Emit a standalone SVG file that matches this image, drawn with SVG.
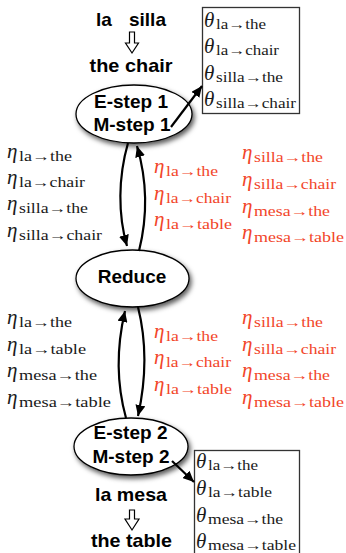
<svg xmlns="http://www.w3.org/2000/svg" width="346" height="553" viewBox="0 0 346 553">
<style>
.b{font-family:"Liberation Sans",Arial,sans-serif;font-weight:bold;font-size:19px;text-anchor:middle;fill:#000}
.g{font-family:"Liberation Serif","DejaVu Serif",serif;font-style:italic;font-size:21px}
.s{font-family:"Liberation Serif","DejaVu Serif",serif;font-size:14px}
.k{fill:#1a1a1a}
.r{fill:#f2462a}
.node{fill:#fff;stroke:#000;stroke-width:1.3}
.box{fill:#fff;stroke:#333;stroke-width:1.3}
.conn path{fill:none;stroke:#000;stroke-width:2.2}
.open{fill:#fff;stroke:#000;stroke-width:1.2}
</style>
<defs>
<filter id="sh" x="-20%" y="-20%" width="150%" height="160%">
<feDropShadow dx="2" dy="3" stdDeviation="2.5" flood-color="#000" flood-opacity="0.65"/>
</filter>
<marker id="ah" markerUnits="userSpaceOnUse" markerWidth="12" markerHeight="10" refX="11" refY="5" orient="auto">
<path d="M0,0 L11,5 L0,10 Z" fill="#000"/>
</marker>
</defs>

<g id="top-label">
<text class="b" x="131" y="26" style="text-anchor:start"><tspan x="96">la</tspan><tspan x="129">silla</tspan></text>
<path class="open" d="M129.5,32 H134.5 V43 H138.5 L132,53 L125.5,43 H129.5 Z"/>
<text class="b" x="131" y="72" textLength="83" lengthAdjust="spacingAndGlyphs">the chair</text>
</g>

<g id="estep1">
<ellipse class="node" cx="134" cy="114" rx="58" ry="29" filter="url(#sh)"/>
<text class="b" x="131" y="108">E-step 1</text>
<text class="b" x="132" y="131">M-step 1</text>
</g>

<g id="theta1">
<rect class="box" x="202.5" y="7.5" width="97" height="106"/>
<text class="g k" x="204" y="27">θ</text><text class="s k" x="216" y="29" textLength="50" lengthAdjust="spacingAndGlyphs">la→the</text>
<text class="g k" x="204" y="53">θ</text><text class="s k" x="216" y="55" textLength="63" lengthAdjust="spacingAndGlyphs">la→chair</text>
<text class="g k" x="204" y="80">θ</text><text class="s k" x="216" y="82" textLength="67" lengthAdjust="spacingAndGlyphs">silla→the</text>
<text class="g k" x="204" y="106">θ</text><text class="s k" x="216" y="108" textLength="80" lengthAdjust="spacingAndGlyphs">silla→chair</text>
</g>

<g id="eta-left-1">
<text class="g k" x="7" y="158">η</text><text class="s k" x="19" y="161" textLength="53" lengthAdjust="spacingAndGlyphs">la→the</text>
<text class="g k" x="7" y="184">η</text><text class="s k" x="19" y="187" textLength="66" lengthAdjust="spacingAndGlyphs">la→chair</text>
<text class="g k" x="7" y="210">η</text><text class="s k" x="19" y="213" textLength="69" lengthAdjust="spacingAndGlyphs">silla→the</text>
<text class="g k" x="7" y="237">η</text><text class="s k" x="19" y="240" textLength="83" lengthAdjust="spacingAndGlyphs">silla→chair</text>
</g>

<g id="eta-mid-1">
<text class="g r" x="154" y="173">η</text><text class="s r" x="166" y="176" textLength="52" lengthAdjust="spacingAndGlyphs">la→the</text>
<text class="g r" x="154" y="200">η</text><text class="s r" x="166" y="203" textLength="65" lengthAdjust="spacingAndGlyphs">la→chair</text>
<text class="g r" x="154" y="226">η</text><text class="s r" x="166" y="229" textLength="66" lengthAdjust="spacingAndGlyphs">la→table</text>
</g>

<g id="eta-right-1">
<text class="g r" x="242" y="159">η</text><text class="s r" x="254" y="162" textLength="69" lengthAdjust="spacingAndGlyphs">silla→the</text>
<text class="g r" x="242" y="186">η</text><text class="s r" x="254" y="189" textLength="82" lengthAdjust="spacingAndGlyphs">silla→chair</text>
<text class="g r" x="242" y="213">η</text><text class="s r" x="254" y="216" textLength="76" lengthAdjust="spacingAndGlyphs">mesa→the</text>
<text class="g r" x="242" y="239">η</text><text class="s r" x="254" y="242" textLength="90" lengthAdjust="spacingAndGlyphs">mesa→table</text>
</g>

<g id="reduce">
<ellipse class="node" cx="132.5" cy="278.5" rx="56.5" ry="28.5" filter="url(#sh)"/>
<text class="b" x="132" y="283">Reduce</text>
</g>

<g id="eta-left-2">
<text class="g k" x="7" y="324">η</text><text class="s k" x="19" y="327" textLength="53" lengthAdjust="spacingAndGlyphs">la→the</text>
<text class="g k" x="7" y="351">η</text><text class="s k" x="19" y="354" textLength="67" lengthAdjust="spacingAndGlyphs">la→table</text>
<text class="g k" x="7" y="377">η</text><text class="s k" x="19" y="380" textLength="78" lengthAdjust="spacingAndGlyphs">mesa→the</text>
<text class="g k" x="7" y="404">η</text><text class="s k" x="19" y="407" textLength="92" lengthAdjust="spacingAndGlyphs">mesa→table</text>
</g>

<g id="eta-mid-2">
<text class="g r" x="154" y="338">η</text><text class="s r" x="166" y="341" textLength="52" lengthAdjust="spacingAndGlyphs">la→the</text>
<text class="g r" x="154" y="364">η</text><text class="s r" x="166" y="367" textLength="65" lengthAdjust="spacingAndGlyphs">la→chair</text>
<text class="g r" x="154" y="391">η</text><text class="s r" x="166" y="394" textLength="66" lengthAdjust="spacingAndGlyphs">la→table</text>
</g>

<g id="eta-right-2">
<text class="g r" x="242" y="324">η</text><text class="s r" x="254" y="327" textLength="69" lengthAdjust="spacingAndGlyphs">silla→the</text>
<text class="g r" x="242" y="351">η</text><text class="s r" x="254" y="354" textLength="82" lengthAdjust="spacingAndGlyphs">silla→chair</text>
<text class="g r" x="242" y="377">η</text><text class="s r" x="254" y="380" textLength="76" lengthAdjust="spacingAndGlyphs">mesa→the</text>
<text class="g r" x="242" y="404">η</text><text class="s r" x="254" y="407" textLength="90" lengthAdjust="spacingAndGlyphs">mesa→table</text>
</g>

<g id="estep2">
<ellipse class="node" cx="131" cy="446.5" rx="57" ry="28.5" filter="url(#sh)"/>
<text class="b" x="130.5" y="439">E-step 2</text>
<text class="b" x="131" y="463">M-step 2</text>
</g>

<g id="theta2">
<rect class="box" x="194.5" y="450.5" width="105" height="110"/>
<text class="g k" x="196" y="468">θ</text><text class="s k" x="208" y="470" textLength="50" lengthAdjust="spacingAndGlyphs">la→the</text>
<text class="g k" x="196" y="495">θ</text><text class="s k" x="208" y="497" textLength="64" lengthAdjust="spacingAndGlyphs">la→table</text>
<text class="g k" x="196" y="522">θ</text><text class="s k" x="208" y="524" textLength="75" lengthAdjust="spacingAndGlyphs">mesa→the</text>
<text class="g k" x="196" y="548">θ</text><text class="s k" x="208" y="550" textLength="88" lengthAdjust="spacingAndGlyphs">mesa→table</text>
</g>

<g id="bottom-label">
<text class="b" x="131" y="501" textLength="72" lengthAdjust="spacingAndGlyphs">la mesa</text>
<path class="open" d="M129.5,510 H134.5 V519 H139 L132,530 L125,519 H129.5 Z"/>
<text class="b" x="131.5" y="547" textLength="81" lengthAdjust="spacingAndGlyphs">the table</text>
</g>

<g id="connectors" class="conn">
<path d="M128,143 C118,178 118,215 127,246" marker-end="url(#ah)"/>
<path d="M139,251 C148,215 147,180 137,146" marker-end="url(#ah)"/>
<path d="M126,418 C116,382 117,345 125,311" marker-end="url(#ah)"/>
<path d="M138,307 C147,343 146,380 138,416" marker-end="url(#ah)"/>
<path d="M171,127 L202,86" marker-end="url(#ah)"/>
<path d="M172,461 L194,482" marker-end="url(#ah)"/>
</g>
</svg>
